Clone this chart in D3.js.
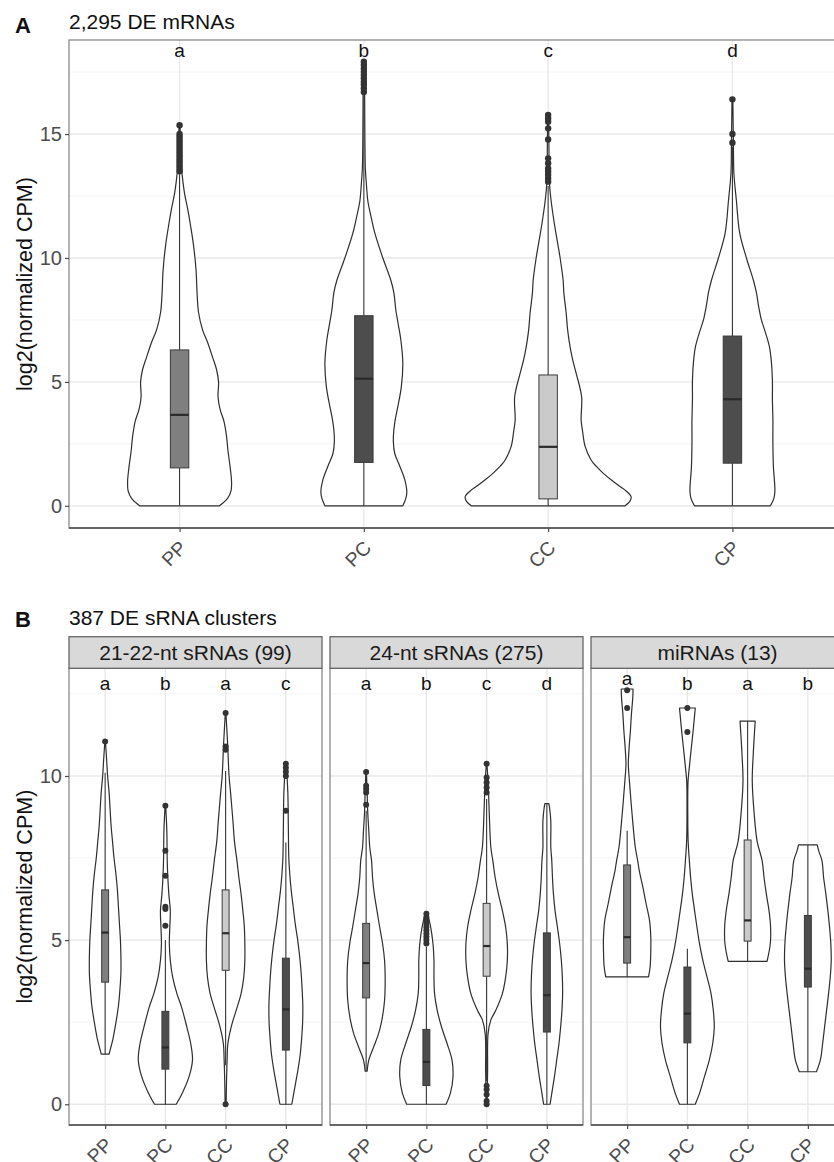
<!DOCTYPE html>
<html>
<head>
<meta charset="utf-8">
<script src="https://cdn.jsdelivr.net/npm/d3@7"></script>
<style>
  body { margin: 0; background: #fff; }
  svg { display: block; font-family: "Liberation Sans", Arial, Helvetica, sans-serif; }
</style>
</head>
<body>
<svg id="chart" width="834" height="1162"></svg>
<script>
// ---------------- DATA ----------------
const groups = ["PP", "PC", "CC", "CP"];

// Panel A: 2,295 DE mRNAs
const titleA = "2,295 DE mRNAs";
const lettersA = ["a", "b", "c", "d"];
const letterYA = [18.1, 18.1, 18.1, 18.1];
const ticksA = [0, 5, 10, 15];
const minorA = [2.5, 7.5, 12.5, 17.5];
// violin profiles: [value, density]
const mrnaViolinPP = [[0,40],[0.3,48],[0.6,51.5],[1.0,52],[1.6,50.5],[2.2,48.5],[2.8,47],[3.4,44.5],[3.9,40.5],[4.4,38.5],[5.0,39],[5.5,37],[6.0,33],[6.6,28],[7.1,23],[7.8,19],[8.6,17.5],[9.5,16.5],[10.5,14],[11.3,11],[12.0,8],[12.6,5],[13.2,3],[13.6,2],[14.2,1.2],[15.4,0.5]];
const mrnaViolinPC = [[0,39],[0.3,42],[0.55,43],[1.05,41],[1.6,36],[2.1,31],[2.6,29.5],[3.05,30],[3.5,31.5],[4.0,34],[4.8,37.5],[5.75,39],[6.7,37],[7.3,34.5],[7.9,32],[8.6,30],[9.1,27],[10.0,19],[11.0,11],[11.7,7],[12.3,4],[13.0,2.5],[13.6,1.5],[15.0,1],[16.5,0.8],[17.9,0.4]];
const mrnaViolinCC = [[0,77],[0.2,82],[0.37,83],[0.6,78],[0.78,72],[1.05,63],[1.32,55],[1.6,48],[1.85,43],[2.4,37],[3.0,34.5],[3.47,33],[4.4,33.5],[5.35,28],[5.9,24.5],[6.4,22],[7.1,19.5],[7.8,18],[8.6,15.7],[9.1,15],[10.0,12],[10.6,9.5],[11.26,6.7],[12.3,3],[12.9,1.5],[13.5,1],[14.5,0.8],[15.8,0.4]];
const mrnaViolinCP = [[0,38],[0.3,41.5],[0.6,42.5],[1.6,41],[2.5,40.5],[3.47,40.5],[4.3,40],[5.08,40],[5.8,39],[6.42,37],[7.0,33],[7.5,29],[8.1,26],[8.6,24],[9.1,21],[10.0,14],[11.0,7.3],[12.3,4],[13.4,1.5],[14.5,1],[15.5,0.7],[16.4,0.4]];
// box stats: [lowerWhisker, Q1, median, Q3, upperWhisker]
const mrnaBoxPP = [0, 1.53, 3.67, 6.29, 13.4];
const mrnaBoxPC = [0, 1.75, 5.13, 7.67, 16.6];
const mrnaBoxCC = [0, 0.28, 2.38, 5.28, 12.9];
const mrnaBoxCP = [0, 1.72, 4.3, 6.85, 14.5];
// outliers
const mrnaOutPP = [13.5,13.6,13.7,13.8,13.9,14.0,14.1,14.2,14.3,14.4,14.5,14.6,14.7,14.8,14.9,15.0,15.36];
const mrnaOutPC = [16.7,16.85,17.0,17.11,17.25,17.38,17.51,17.65,17.79,17.92];
const mrnaOutCC = [13.08,13.21,13.35,13.48,13.61,13.82,14.02,14.78,15.23,15.5,15.63,15.77];
const mrnaOutCP = [14.65,15.0,16.4];

// Panel B: 387 DE sRNA clusters
const titleB = "387 DE sRNA clusters";
const facetsB = ["21-22-nt sRNAs (99)", "24-nt sRNAs (275)", "miRNAs (13)"];
const ticksB = [0, 5, 10];
const minorB = [2.5, 7.5, 12.5];
const lettersB1 = ["a", "b", "a", "c"];
const lettersB2 = ["a", "b", "c", "d"];
const lettersB3 = ["a", "b", "a", "b"];
const letterYB1 = [12.63, 12.63, 12.63, 12.63];
const letterYB2 = [12.63, 12.63, 12.63, 12.63];
const letterYB3 = [12.78, 12.63, 12.63, 12.63];

// 21-22-nt sRNAs
const s21ViolinPP = [[1.53,4],[1.7,5.5],[2.0,8],[2.5,11],[3.0,13.5],[3.5,15],[4.0,16],[4.5,16],[5.0,15.5],[5.5,14.5],[6.0,13.5],[6.5,12.5],[7.0,11],[7.5,9],[8.0,7.5],[8.5,6],[9.0,5],[9.5,4],[10.0,2.5],[10.5,1.5],[11.05,0.3]];
const s21ViolinPC = [[0,11],[0.33,17],[0.84,24],[1.35,27.5],[1.85,25.7],[2.36,21.7],[2.96,16.4],[3.37,11.7],[3.87,7.4],[4.38,5],[4.9,4],[5.4,4.5],[5.9,5],[6.4,3.5],[6.9,2.5],[7.5,1.8],[8.3,1.5],[9.09,0.3]];
const s21ViolinCC = [[0,0.5],[0.84,1],[1.35,1.5],[1.85,2.3],[2.36,5.7],[2.86,10.7],[3.37,15.7],[3.87,18.4],[4.38,19.5],[4.89,19.5],[5.4,19],[5.9,17.5],[6.4,15.7],[6.9,13.5],[7.42,11.5],[8.0,9],[8.6,7.5],[9.5,5],[10.0,3.5],[11.0,2],[11.92,0.3]];
const s21ViolinCP = [[0,6],[0.5,9],[1.0,12],[1.5,14.5],[2.0,16],[2.5,17],[3.0,17.2],[3.5,16.5],[4.0,15.5],[4.5,14],[5.0,12],[5.5,9.5],[6.0,7.5],[6.5,5.5],[7.0,4],[7.5,3],[8.5,2.5],[9.5,2],[10.4,0.3]];
const s21BoxPP = [1.53, 3.72, 5.23, 6.53, 10.1];
const s21BoxPC = [0, 1.07, 1.73, 2.83, 5.0];
const s21BoxCC = [1.19, 4.08, 5.21, 6.53, 10.15];
const s21BoxCP = [0, 1.65, 2.89, 4.45, 7.97];
const s21OutPP = [11.05];
const s21OutPC = [5.44, 5.95, 6.02, 6.96, 7.72, 9.09];
const s21OutCC = [0, 10.8, 10.9, 11.92];
const s21OutCP = [8.94, 10.0, 10.13, 10.25, 10.37];

// 24-nt sRNAs
const s24ViolinPP = [[1.01,1],[1.35,2.7],[1.75,7.7],[2.16,12.7],[2.57,16],[3.17,18.7],[3.87,19.3],[4.38,18.7],[4.89,16.7],[5.4,13.7],[5.9,11],[6.4,8.3],[6.9,6.5],[7.42,5.5],[7.82,3.7],[8.33,2.7],[8.84,1.7],[9.5,1],[10.12,0.3]];
const s24ViolinPC = [[0,20],[0.33,24.3],[0.84,27],[1.35,26],[1.85,21],[2.36,15.3],[2.86,11],[3.37,8.3],[3.87,7.7],[4.38,7.7],[4.89,6.7],[5.4,4.3],[5.7,2],[5.8,0.3]];
const s24ViolinCC = [[0,0.5],[1.0,1],[2.16,1.5],[2.57,4.3],[2.86,9.3],[3.37,16],[3.87,19.3],[4.38,21],[4.89,21],[5.4,19.3],[5.9,16],[6.4,12],[6.9,8.7],[7.42,6.3],[7.82,4.3],[8.84,2.7],[9.45,2],[9.8,1.5],[10.37,0.3]];
const s24ViolinCP = [[0,3.3],[0.33,5],[0.84,7.7],[1.35,10],[1.85,12.3],[2.36,14],[2.86,15.3],[3.37,16],[3.87,15.7],[4.38,14.7],[4.89,13],[5.4,10.7],[5.9,8.3],[6.4,6.7],[6.9,5.7],[7.42,5],[7.82,4],[8.63,4],[9.04,2.7],[9.16,2]];
const s24BoxPP = [1.01, 3.24, 4.3, 5.51, 8.94];
const s24BoxPC = [0, 0.57, 1.29, 2.28, 4.8];
const s24BoxCC = [0.7, 3.9, 4.82, 6.12, 9.3];
const s24BoxCP = [0, 2.2, 3.32, 5.22, 9.16];
const s24OutPP = [9.12, 9.5, 9.6, 9.7, 10.12];
const s24OutPC = [4.9, 5.0, 5.1, 5.2, 5.3, 5.4, 5.5, 5.6, 5.7, 5.8];
const s24OutCC = [0, 0.1, 0.3, 0.45, 0.56, 9.5, 9.65, 9.8, 9.95, 10.37];
const s24OutCP = [];

// miRNAs
const miViolinPP = [[3.88,21.7],[4.18,23.3],[4.69,24],[5.09,24],[5.6,22.7],[6.1,19.3],[6.61,16],[7.12,12.3],[7.42,10.7],[7.82,8.3],[8.84,5],[9.85,2.3],[10.36,1.2],[10.86,2],[11.37,3.3],[11.87,4.3],[12.38,5.7],[12.65,6]];
const miViolinPC = [[0,8],[0.33,12.3],[0.84,17.3],[1.35,22.3],[1.85,25.7],[2.36,27.3],[2.86,26.3],[3.37,24],[3.87,20],[4.38,15.7],[4.89,12.3],[5.4,9.7],[5.9,7.3],[6.4,5],[6.9,3.3],[7.42,2],[8.0,0.8],[8.84,0.4],[9.85,0.7],[10.27,2],[10.86,4],[11.34,5.7],[12.07,8]];
const miViolinCC = [[4.35,19.7],[4.89,23],[5.4,23.3],[5.9,21.7],[6.4,19],[6.9,16.7],[7.42,14.7],[8.0,9.7],[8.84,6.7],[9.85,4.7],[10.66,5.7],[11.67,7.7]];
const miViolinCP = [[0.99,8.7],[1.35,12.7],[1.85,15],[2.36,17],[2.86,19],[3.37,21],[3.87,22.7],[4.38,23.7],[4.89,23.3],[5.4,22],[5.9,20.3],[6.4,18.3],[6.9,16],[7.42,14.3],[7.72,11],[7.9,9.5]];
const miBoxPP = [3.88, 4.3, 5.09, 7.29, 8.33];
const miBoxPC = [0, 1.87, 2.76, 4.18, 4.74];
const miBoxCC = [4.35, 4.97, 5.6, 8.05, 11.67];
const miBoxCP = [0.99, 3.57, 4.13, 5.75, 7.9];
const miOutPP = [12.07, 12.61];
const miOutPC = [11.34, 12.07];
const miOutCC = [];
const miOutCP = [];

// ---------------- STYLE ----------------
const boxFill = { PP: "#7f7f7f", PC: "#4d4d4d", CC: "#cacaca", CP: "#4d4d4d" };
const FONT = '"Liberation Sans", Arial, Helvetica, sans-serif';

const svg = d3.select("#chart");

function drawPanel(g, cfg) {
  const x = d3.scalePoint().domain(groups).range([cfg.x0, cfg.x1]).padding(0.6);
  const y = d3.scaleLinear().domain(cfg.yDomain).range([cfg.y1, cfg.y0]);
  const step = x.step();
  const w = d3.scaleLinear().domain([0, cfg.widthMax]).range([0, 0.45 * step]);

  g.append("rect").attr("x", cfg.x0).attr("y", cfg.y0)
    .attr("width", cfg.x1 - cfg.x0).attr("height", cfg.y1 - cfg.y0).attr("fill", "#fff");

  // grid
  g.selectAll(".minor").data(cfg.minor).join("line")
    .attr("x1", cfg.x0).attr("x2", cfg.x1)
    .attr("y1", d => y(d)).attr("y2", d => y(d))
    .attr("stroke", "#f2f2f2").attr("stroke-width", 0.8);
  g.selectAll(".major").data(cfg.ticks).join("line")
    .attr("x1", cfg.x0).attr("x2", cfg.x1)
    .attr("y1", d => y(d)).attr("y2", d => y(d))
    .attr("stroke", "#e8e8e8").attr("stroke-width", 1.3);
  g.selectAll(".vgrid").data(groups).join("line")
    .attr("x1", d => x(d)).attr("x2", d => x(d))
    .attr("y1", cfg.y0).attr("y2", cfg.y1)
    .attr("stroke", "#e8e8e8").attr("stroke-width", 1.3);

  const bw = cfg.boxFrac * step;
  groups.forEach((k, i) => {
    const cx = x(k);
    const area = d3.area()
      .curve(d3.curveCatmullRom.alpha(0.5))
      .y(d => y(d[0]))
      .x0(d => cx - w(d[1]))
      .x1(d => cx + w(d[1]));
    g.append("path").datum(cfg.violins[i]).attr("d", area)
      .attr("fill", "#fff").attr("stroke", "#2e2e2e").attr("stroke-width", 1.2)
      .attr("stroke-linejoin", "round");

    const b = cfg.boxes[i];
    g.append("line").attr("x1", cx).attr("x2", cx).attr("y1", y(b[0])).attr("y2", y(b[1]))
      .attr("stroke", "#333").attr("stroke-width", 1.1);
    g.append("line").attr("x1", cx).attr("x2", cx).attr("y1", y(b[3])).attr("y2", y(b[4]))
      .attr("stroke", "#333").attr("stroke-width", 1.1);
    g.append("rect").attr("x", cx - bw / 2).attr("width", bw)
      .attr("y", y(b[3])).attr("height", y(b[1]) - y(b[3]))
      .attr("fill", boxFill[k]).attr("stroke", "#3a3a3a").attr("stroke-width", 1);
    g.append("line").attr("x1", cx - bw / 2).attr("x2", cx + bw / 2)
      .attr("y1", y(b[2])).attr("y2", y(b[2]))
      .attr("stroke", "#2a2a2a").attr("stroke-width", 2.2);

    g.selectAll(null).data(cfg.outliers[i]).join("circle")
      .attr("cx", cx).attr("cy", d => y(d)).attr("r", cfg.ptR).attr("fill", "#333");

    g.append("text").attr("x", cx).attr("y", y(cfg.letterY[i]))
      .attr("text-anchor", "middle").attr("font-size", 19).attr("fill", "#111")
      .text(cfg.letters[i]);
  });

  // border
  g.append("rect").attr("x", cfg.x0).attr("y", cfg.y0)
    .attr("width", cfg.x1 - cfg.x0).attr("height", cfg.y1 - cfg.y0)
    .attr("fill", "none").attr("stroke", "#8a8a8a").attr("stroke-width", 1.3);
  g.append("line").attr("x1", cfg.x0).attr("x2", cfg.x1).attr("y1", cfg.y1).attr("y2", cfg.y1)
    .attr("stroke", "#4d4d4d").attr("stroke-width", 1.6);

  // x axis
  const xa = g.append("g").attr("transform", `translate(0,${cfg.y1})`)
    .call(d3.axisBottom(x).tickSize(4).tickSizeOuter(0));
  xa.select(".domain").remove();
  xa.selectAll(".tick line").attr("stroke", "#4d4d4d").attr("stroke-width", 1.2);
  xa.selectAll(".tick text")
    .attr("y", 0).attr("dy", null)
    .attr("transform", "translate(8,21) rotate(-45)")
    .attr("text-anchor", "end")
    .attr("font-family", FONT).attr("font-size", 19.5).attr("fill", "#4d4d4d");

  if (cfg.yAxis) {
    const ya = g.append("g").attr("transform", `translate(${cfg.x0},0)`)
      .call(d3.axisLeft(y).tickValues(cfg.ticks).tickSize(4).tickPadding(3).tickSizeOuter(0));
    ya.select(".domain").remove();
    ya.selectAll(".tick line").attr("stroke", "#4d4d4d").attr("stroke-width", 1.2);
    ya.selectAll(".tick text").attr("font-family", FONT).attr("font-size", 20).attr("fill", "#4d4d4d");
    g.append("text")
      .attr("transform", `translate(32,${(cfg.y0 + cfg.y1) / 2}) rotate(-90)`)
      .attr("text-anchor", "middle").attr("font-size", 21.5).attr("fill", "#111")
      .text("log2(normalized CPM)");
  }
  return { x, y };
}

// ---------- Panel A ----------
const gA = svg.append("g");
gA.append("text").attr("x", 15).attr("y", 33).attr("font-size", 22).attr("font-weight", "bold").attr("fill", "#111").text("A");
gA.append("text").attr("x", 69).attr("y", 29).attr("font-size", 21).attr("fill", "#111").text(titleA);
const violinsA = [mrnaViolinPP, mrnaViolinPC, mrnaViolinCC, mrnaViolinCP];
drawPanel(gA, {
  x0: 69, x1: 843, y0: 40, y1: 528,
  yDomain: [-0.895, 18.795],
  ticks: ticksA, minor: minorA,
  violins: violinsA,
  boxes: [mrnaBoxPP, mrnaBoxPC, mrnaBoxCC, mrnaBoxCP],
  outliers: [mrnaOutPP, mrnaOutPC, mrnaOutCC, mrnaOutCP],
  letters: lettersA, letterY: letterYA,
  widthMax: d3.max(violinsA.flat(), d => d[1]),
  boxFrac: 0.1, ptR: 3.2, yAxis: true
});

// ---------- Panel B ----------
const gB = svg.append("g");
gB.append("text").attr("x", 15).attr("y", 627).attr("font-size", 22).attr("font-weight", "bold").attr("fill", "#111").text("B");
gB.append("text").attr("x", 69).attr("y", 625).attr("font-size", 21).attr("fill", "#111").text(titleB);

const violinsB = [
  [s21ViolinPP, s21ViolinPC, s21ViolinCC, s21ViolinCP],
  [s24ViolinPP, s24ViolinPC, s24ViolinCC, s24ViolinCP],
  [miViolinPP, miViolinPC, miViolinCC, miViolinCP]
];
const boxesB = [
  [s21BoxPP, s21BoxPC, s21BoxCC, s21BoxCP],
  [s24BoxPP, s24BoxPC, s24BoxCC, s24BoxCP],
  [miBoxPP, miBoxPC, miBoxCC, miBoxCP]
];
const outB = [
  [s21OutPP, s21OutPC, s21OutCC, s21OutCP],
  [s24OutPP, s24OutPC, s24OutCC, s24OutCP],
  [miOutPP, miOutPC, miOutCC, miOutCP]
];
const lettersB = [lettersB1, lettersB2, lettersB3];
const letterYB = [letterYB1, letterYB2, letterYB3];
const wMaxB = d3.max(violinsB.flat(2), d => d[1]);

const panelW = 253, gap = 8, stripTop = 636.7, stripH = 31.6;
facetsB.forEach((f, j) => {
  const x0 = 69 + j * (panelW + gap);
  const gp = gB.append("g");
  drawPanel(gp, {
    x0: x0, x1: x0 + panelW, y0: stripTop + stripH, y1: 1125,
    yDomain: [-0.632, 13.28],
    ticks: ticksB, minor: minorB,
    violins: violinsB[j], boxes: boxesB[j], outliers: outB[j],
    letters: lettersB[j], letterY: letterYB[j],
    widthMax: wMaxB, boxFrac: 0.115, ptR: 3, yAxis: j === 0
  });
  gp.append("rect").attr("x", x0).attr("y", stripTop).attr("width", panelW).attr("height", stripH)
    .attr("fill", "#d9d9d9").attr("stroke", "#666").attr("stroke-width", 1.3);
  gp.append("text").attr("x", x0 + panelW / 2).attr("y", stripTop + stripH / 2)
    .attr("dy", "0.36em").attr("text-anchor", "middle").attr("font-size", 21).attr("fill", "#1a1a1a")
    .text(f);
});
</script>
</body>
</html>
